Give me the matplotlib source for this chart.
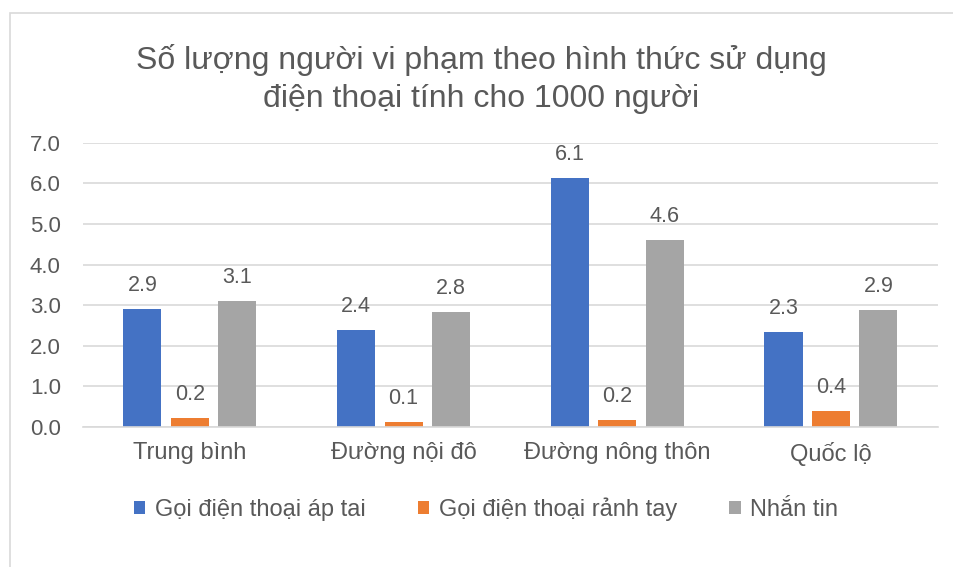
import numpy as np
import matplotlib
matplotlib.use('Agg')
import matplotlib.pyplot as plt
from matplotlib.patches import Rectangle

plt.rcParams['font.family'] = ['Liberation Sans', 'DejaVu Sans']

categories = ['Trung bình', 'Đường nội đô', 'Đường nông thôn', 'Quốc lộ']
series_names = ['Gọi điện thoại áp tai', 'Gọi điện thoại rảnh tay', 'Nhắn tin']
ap_tai = [2.91, 2.39, 6.13, 2.34]
ranh_tay = [0.22, 0.12, 0.17, 0.39]
nhan_tin = [3.10, 2.83, 4.60, 2.88]
yticks = [0.0, 1.0, 2.0, 3.0, 4.0, 5.0, 6.0, 7.0]

colors = ['#4472C4', '#ED7D31', '#A5A5A5']
text_color = '#595959'
grid_color = '#D9D9D9'

fig = plt.figure(figsize=(9.54, 5.67), dpi=100)
ax = fig.add_axes([0.087, 0.247, 0.896, 0.501])

# chart frame like the Excel chart area border
fig.patches.append(Rectangle((10 / 954, -0.1), 1.2, 1.1 - 13 / 567,
                             transform=fig.transFigure, fill=False,
                             edgecolor='#D9D9D9', linewidth=1.2))

x = np.arange(len(categories))
width = 0.178
offset = 0.222
for i, (vals, name) in enumerate(zip([ap_tai, ranh_tay, nhan_tin], series_names)):
    bars = ax.bar(x + (i - 1) * offset, vals, width, color=colors[i], label=name, zorder=3)
    for b, v in zip(bars, vals):
        ax.annotate(f'{v:.1f}', (b.get_x() + b.get_width() / 2, v),
                    xytext=(0, 13), textcoords='offset points',
                    ha='center', va='baseline', fontsize=15.5, color=text_color)

ax.set_xlim(-0.5, 3.5)
ax.set_ylim(0, 7.0)
ax.set_yticks(yticks)
ax.set_yticklabels([f'{t:.1f}' for t in yticks])
ax.set_xticks(x)
ax.set_xticklabels(categories)
ax.tick_params(axis='y', length=0, pad=16, labelsize=16, labelcolor=text_color)
ax.tick_params(axis='x', length=0, pad=11, labelsize=17, labelcolor=text_color)
ax.grid(axis='y', color=grid_color, linewidth=1.2, zorder=0)
for s in ['top', 'right', 'left']:
    ax.spines[s].set_visible(False)
ax.spines['bottom'].set_color(grid_color)
ax.spines['bottom'].set_linewidth(1.2)
ax.spines['bottom'].set_zorder(4)

fig.text(481 / 954, 1 - 79 / 567, 'Số lượng người vi phạm theo hình thức sử dụng\nđiện thoại tính cho 1000 người',
         ha='center', va='center', fontsize=23, color=text_color, linespacing=1.38)

fig.legend(loc='center', bbox_to_anchor=(486 / 954, 1 - 509 / 567), ncol=3, frameon=False,
           fontsize=17, labelcolor=text_color, handlelength=0.5, handleheight=0.5,
           handletextpad=0.4, columnspacing=2.2)

plt.savefig('out.png', dpi=100)
